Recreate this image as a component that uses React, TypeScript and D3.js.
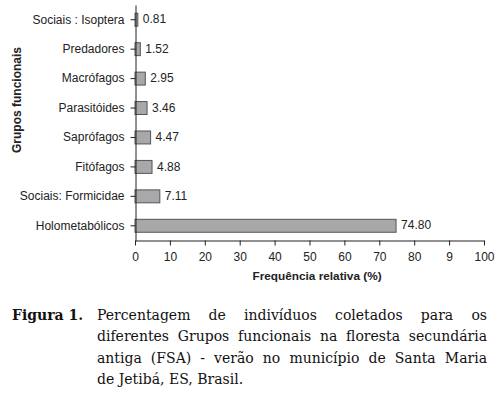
import React, { useEffect, useRef } from "react";
import * as d3 from "d3";

const categories = [
  "Sociais : Isoptera",
  "Predadores",
  "Macrófagos",
  "Parasitóides",
  "Saprófagos",
  "Fitófagos",
  "Sociais: Formicidae",
  "Holometabólicos",
];
const values = [0.81, 1.52, 2.95, 3.46, 4.47, 4.88, 7.11, 74.8];
const xTicks = [0, 10, 20, 30, 40, 50, 60, 70, 80, 90, 100];
const xTickLabels = ["0", "10", "20", "30", "40", "50", "60", "70", "80", "9", "100"];
const captionLines = [
  "Percentagem de indivíduos coletados para os",
  "diferentes Grupos funcionais na floresta secundária",
  "antiga (FSA) - verão no município de Santa Maria",
  "de Jetibá, ES, Brasil.",
];

const App = () => {
  const ref = useRef<SVGSVGElement>(null);

  function draw() {
    const svg = d3.select(ref.current);
    svg.selectAll("*").remove();
    const width = 502;
    const height = 397;
    const sans = "Liberation Sans, Arial, sans-serif";

    svg
      .attr("width", width)
      .attr("height", height)
      .attr("viewBox", [0, 0, width, height])
      .style("position", "absolute")
      .style("left", "0px")
      .style("top", "0px")
      .style("display", "block")
      .style("background", "#fff");

    const x = d3.scaleLinear().domain([0, 100]).range([135, 484]);
    const y = d3
      .scaleBand()
      .domain(categories)
      .range([5, 240.5])
      .paddingInner(0.56)
      .paddingOuter(0.28);

    // bars
    svg
      .append("g")
      .selectAll("rect")
      .data(values)
      .join("rect")
      .attr("x", x(0))
      .attr("y", (d, i) => y(categories[i])!)
      .attr("width", (d) => x(d) - x(0))
      .attr("height", y.bandwidth())
      .attr("fill", "#a8a8aa")
      .attr("stroke", "#555")
      .attr("stroke-width", 1);

    // value labels
    svg
      .append("g")
      .selectAll("text")
      .data(values)
      .join("text")
      .attr("x", (d) => x(d) + 5)
      .attr("y", (d, i) => y(categories[i])! + y.bandwidth() / 2)
      .attr("dy", "0.3em")
      .attr("font-family", sans)
      .attr("font-size", 12)
      .attr("fill", "#222")
      .text((d) => d.toFixed(2));

    // x axis
    svg
      .append("g")
      .attr("transform", "translate(0,240.5)")
      .call(
        d3
          .axisBottom(x)
          .tickValues(xTicks)
          .tickSize(5)
          .tickSizeOuter(0)
          .tickPadding(7)
          .tickFormat((d, i) => xTickLabels[i])
      )
      .call((g) => g.selectAll("line,path").attr("stroke", "#222"))
      .call((g) =>
        g.selectAll("text").attr("font-family", sans).attr("font-size", 12).attr("fill", "#222")
      );

    // y axis
    svg
      .append("g")
      .attr("transform", "translate(135.5,0)")
      .call(d3.axisLeft(y).tickSize(5).tickSizeOuter(0).tickPadding(6))
      .call((g) => g.selectAll("line,path").attr("stroke", "#222"))
      .call((g) =>
        g.selectAll("text").attr("font-family", sans).attr("font-size", 12).attr("fill", "#222")
      );

    // axis titles
    svg
      .append("text")
      .attr("x", 317)
      .attr("y", 280)
      .attr("text-anchor", "middle")
      .attr("font-family", sans)
      .attr("font-weight", "bold")
      .attr("font-size", 11.8)
      .attr("fill", "#222")
      .text("Frequência relativa (%)");

    svg
      .append("text")
      .attr("transform", "translate(21,100) rotate(-90)")
      .attr("text-anchor", "middle")
      .attr("font-family", sans)
      .attr("font-weight", "bold")
      .attr("font-size", 12)
      .attr("fill", "#222")
      .text("Grupos funcionais");

    // caption
    const serif = "DejaVu Serif, serif";
    const capSize = 14;
    svg
      .append("text")
      .attr("x", 12)
      .attr("y", 320)
      .attr("font-family", serif)
      .attr("font-weight", "bold")
      .attr("font-size", capSize)
      .attr("fill", "#111")
      .text("Figura 1.");

    const left = 97;
    const right = 487;
    captionLines.forEach((line, li) => {
      const base = 320 + li * 21.3;
      const words = line.split(" ");
      const g = svg.append("g");
      const nodes = words.map((w) =>
        g
          .append("text")
          .attr("y", base)
          .attr("font-family", serif)
          .attr("font-size", capSize)
          .attr("fill", "#111")
          .text(w)
      );
      const widths = nodes.map((n) => (n.node() as SVGTextElement).getComputedTextLength());
      const total = d3.sum(widths);
      const justify = li < captionLines.length - 1;
      let gap = justify ? (right - left - total) / (words.length - 1) : capSize * 0.32;
      let scale = 1;
      if (gap < 3) {
        gap = 3;
        scale = (right - left - gap * (words.length - 1)) / total;
      }
      let cx = left;
      nodes.forEach((n, i) => {
        n.attr("x", cx);
        if (scale !== 1) n.attr("textLength", widths[i] * scale).attr("lengthAdjust", "spacingAndGlyphs");
        cx += widths[i] * scale + gap;
      });
    });
  }

  useEffect(() => {
    draw();
  }, []);

  return <svg ref={ref} />;
};

export default App;
